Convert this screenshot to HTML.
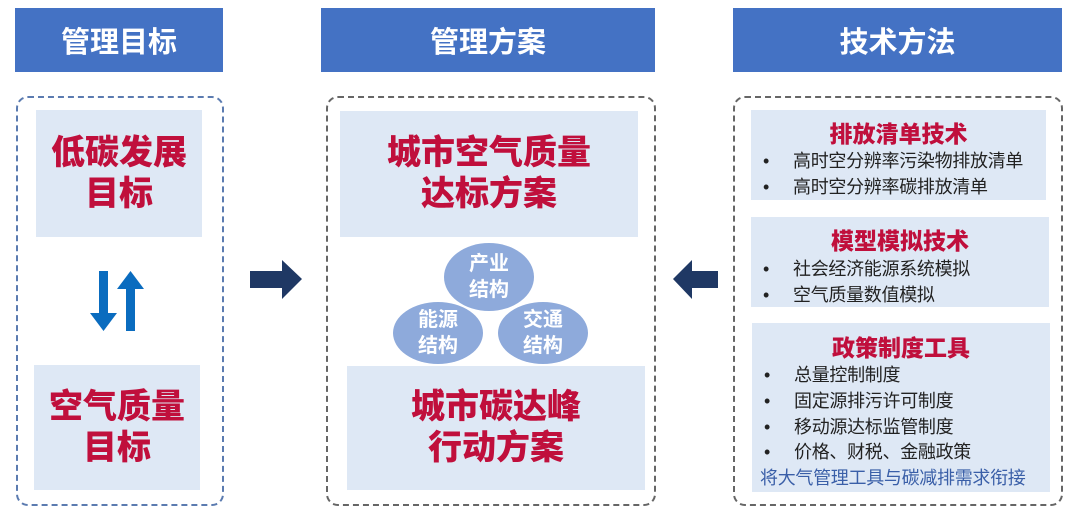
<!DOCTYPE html>
<html><head><meta charset="utf-8"><style>
body{margin:0;width:1080px;height:524px;background:#fff;position:relative;overflow:hidden;font-family:"Liberation Sans","Noto Sans CJK SC",sans-serif}
div{position:absolute;box-sizing:border-box}
.h{background:#4472c4;color:#fff;font-weight:bold;font-size:29px;display:flex;align-items:center;justify-content:center;top:8px;height:64px}
.dash{border:2px dashed #5b7bb0;border-radius:12px;top:96px;height:410px}
.p{background:#dee8f5}
.big{color:#c00f3c;font-weight:900;font-size:34px;line-height:41px;text-align:center;display:flex;align-items:center;justify-content:center}
.c{background:#8eaadb;border-radius:50%;color:#fff;font-weight:bold;font-size:20px;line-height:26px;display:flex;align-items:center;justify-content:center;text-align:center}
.t{color:#c00f3c;font-weight:900;font-size:23px;width:100%;text-align:center}
.i{font-size:18px;color:#222;left:12px;white-space:nowrap;letter-spacing:-0.3px}
.i b{font-weight:normal;display:inline-block;width:30px}
</style></head><body>
<div class="h" style="left:15px;width:208px">管理目标</div>
<div class="h" style="left:321px;width:334px">管理方案</div>
<div class="h" style="left:733px;width:329px">技术方法</div>

<div class="dash" style="left:16px;width:208px"></div>
<div class="p big" style="left:36px;top:110px;width:166px;height:127px">低碳发展<br>目标</div>
<div class="p big" style="left:34px;top:365px;width:166px;height:125px">空气质量<br>目标</div>
<svg style="position:absolute;left:90px;top:268px" width="60" height="66">
<polygon points="9,3 18,3 18,45 27,45 13.5,63 0,45 9,45" fill="#0a6cbf"/>
<polygon points="36,63 45,63 45,21 54,21 40.5,3 27,21 36,21" fill="#0a6cbf"/>
</svg>
<svg style="position:absolute;left:250px;top:258px" width="54" height="44">
<polygon points="0,13 32,13 32,2 52,21 32,41 32,30 0,30" fill="#1f3864"/>
</svg>
<svg style="position:absolute;left:672px;top:258px" width="48" height="44">
<polygon points="46,13 20,13 20,2 1,21 20,41 20,30 46,30" fill="#1f3864"/>
</svg>

<div class="dash" style="left:326px;width:330px;border-color:#666"></div>
<div class="p big" style="left:340px;top:111px;width:298px;height:126px">城市空气质量<br>达标方案</div>
<div class="p big" style="left:347px;top:366px;width:298px;height:124px">城市碳达峰<br>行动方案</div>
<div class="c" style="left:444px;top:243px;width:90px;height:68px">产业<br>结构</div>
<div class="c" style="left:393px;top:302px;width:90px;height:62px">能源<br>结构</div>
<div class="c" style="left:498px;top:302px;width:90px;height:62px">交通<br>结构</div>

<div class="dash" style="left:733px;width:330px;border-color:#666"></div>
<div class="p" style="left:751px;top:110px;width:295px;height:90px">
<div class="t" style="top:5px">排放清单技术</div>
<div class="i" style="top:37px"><b>•</b>高时空分辨率污染物排放清单</div>
<div class="i" style="top:63px"><b>•</b>高时空分辨率碳排放清单</div>
</div>
<div class="p" style="left:751px;top:217px;width:298px;height:90px">
<div class="t" style="top:5px">模型模拟技术</div>
<div class="i" style="top:38px"><b>•</b>社会经济能源系统模拟</div>
<div class="i" style="top:64px"><b>•</b>空气质量数值模拟</div>
</div>
<div class="p" style="left:752px;top:323px;width:298px;height:169px">
<div class="t" style="top:6px">政策制度工具</div>
<div class="i" style="top:38px"><b>•</b>总量控制制度</div>
<div class="i" style="top:64px"><b>•</b>固定源排污许可制度</div>
<div class="i" style="top:90px"><b>•</b>移动源达标监管制度</div>
<div class="i" style="top:115px"><b>•</b>价格、财税、金融政策</div>
<div class="i" style="top:141px;left:8px;color:#3a5fa8">将大气管理工具与碳减排需求衔接</div>
</div>
</body></html>
